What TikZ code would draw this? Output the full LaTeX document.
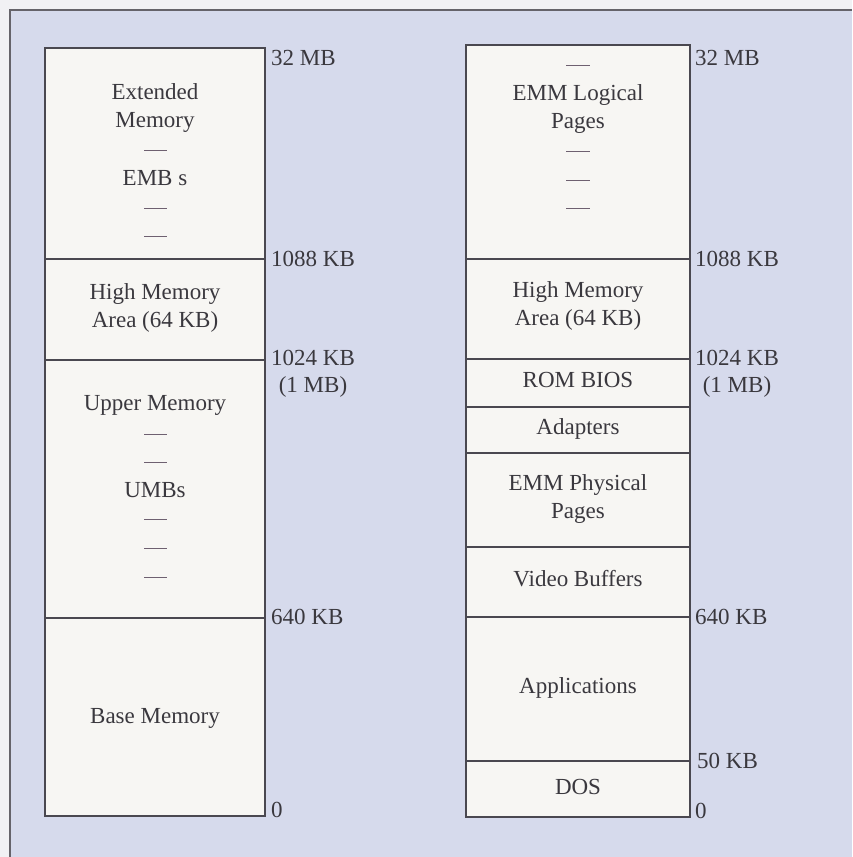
\documentclass[tikz,border=0pt]{standalone}
\usepackage{fontspec}
\setmainfont{Liberation Serif}
\definecolor{outerc}{HTML}{F1F1F4}
\definecolor{bgc}{HTML}{D6DAEC}
\definecolor{cellc}{HTML}{F7F6F3}
\definecolor{edgec}{HTML}{4A4850}
\definecolor{inkc}{HTML}{3A383E}
\definecolor{dashc}{HTML}{6E6070}
\begin{document}
\begin{tikzpicture}[x=1pt,y=-1pt,
  txt/.style={font=\fontsize{23}{28}\selectfont, text=inkc, inner sep=0pt},
  ctr/.style={txt, anchor=base},
  lbl/.style={txt, anchor=west},
  mem/.style={draw=edgec, line width=1.3pt, fill=cellc},
  sepline/.style={draw=edgec, line width=1.3pt},
  thick sep/.style={draw=edgec, line width=2pt},
  dashmark/.style={draw=dashc, line width=1pt},
  framec/.style={draw=edgec!85, line width=1.5pt}]
\useasboundingbox (0,0) rectangle (852,857);
\fill[outerc] (0,0) rectangle (852,857);
\fill[bgc] (10,10) rectangle (852,857);
\draw[framec] (10,857) -- (10,10) -- (852,10);

% ---------------- left column ----------------
\draw[mem] (45,48) rectangle (265,816);
\coordinate (L1088a) at (45,259);  \coordinate (L1088b) at (265,259);
\coordinate (L1024a) at (45,360);  \coordinate (L1024b) at (265,360);
\coordinate (L640a)  at (45,618);  \coordinate (L640b)  at (265,618);
\draw[sepline] (L1088a) -- (L1088b);
\draw[sepline] (L1024a) -- (L1024b);
\draw[thick sep] (L640a) -- (L640b);

\node[ctr] (ext1) at (155,99) {Extended};
\node[ctr] (ext2) at (155,127) {Memory};
\draw[dashmark] (144,150) -- (167,150);
\node[ctr] (embs) at (155,185) {EMB s};
\draw[dashmark] (144,208) -- (167,208);
\draw[dashmark] (144,236) -- (167,236);

\node[ctr] (hma1L) at (155,299) {High Memory};
\node[ctr] (hma2L) at (155,327) {Area (64 KB)};

\node[ctr] (upper) at (155,410) {Upper Memory};
\draw[dashmark] (144,434) -- (167,434);
\draw[dashmark] (144,462) -- (167,462);
\node[ctr] (umbs) at (155,497) {UMBs};
\draw[dashmark] (144,519) -- (167,519);
\draw[dashmark] (144,548) -- (167,548);
\draw[dashmark] (144,577) -- (167,577);

\node[ctr] (base) at (155,723) {Base Memory};

\node[lbl] (l32L)   at (271,58)  {32 MB};
\node[lbl] (l1088L) at (271,259) {1088 KB};
\node[lbl] (l1024L) at (271,358) {1024 KB};
\node[ctr] (l1mbL)  at (313,392) {(1 MB)};
\node[lbl] (l640L)  at (271,617) {640 KB};
\node[lbl] (l0L)    at (271,810) {0};

% ---------------- right column ----------------
\draw[mem] (466,45) rectangle (690,817);
\draw[sepline] (466,259) -- (690,259);
\draw[sepline] (466,359) -- (690,359);
\draw[sepline] (466,407) -- (690,407);
\draw[sepline] (466,453) -- (690,453);
\draw[sepline] (466,547) -- (690,547);
\draw[thick sep] (466,617) -- (690,617);
\draw[sepline] (466,761) -- (690,761);

\draw[dashmark] (566,65) -- (590,65);
\node[ctr] (emm1) at (578,100) {EMM Logical};
\node[ctr] (emm2) at (578,128) {Pages};
\draw[dashmark] (566,151) -- (590,151);
\draw[dashmark] (566,180) -- (590,180);
\draw[dashmark] (566,208) -- (590,208);

\node[ctr] (hma1R) at (578,297) {High Memory};
\node[ctr] (hma2R) at (578,325) {Area (64 KB)};
\node[ctr] (rom)   at (578,387) {ROM BIOS};
\node[ctr] (adap)  at (578,434) {Adapters};
\node[ctr] (phys1) at (578,490) {EMM Physical};
\node[ctr] (phys2) at (578,518) {Pages};
\node[ctr] (video) at (578,586) {Video Buffers};
\node[ctr] (apps)  at (578,693) {Applications};
\node[ctr] (dos)   at (578,794) {DOS};

\node[lbl] (l32R)   at (695,58)  {32 MB};
\node[lbl] (l1088R) at (695,259) {1088 KB};
\node[lbl] (l1024R) at (695,358) {1024 KB};
\node[ctr] (l1mbR)  at (737,392) {(1 MB)};
\node[lbl] (l640R)  at (695,617) {640 KB};
\node[lbl] (l50R)   at (697,761) {50 KB};
\node[lbl] (l0R)    at (695,811) {0};
\end{tikzpicture}
\end{document}
